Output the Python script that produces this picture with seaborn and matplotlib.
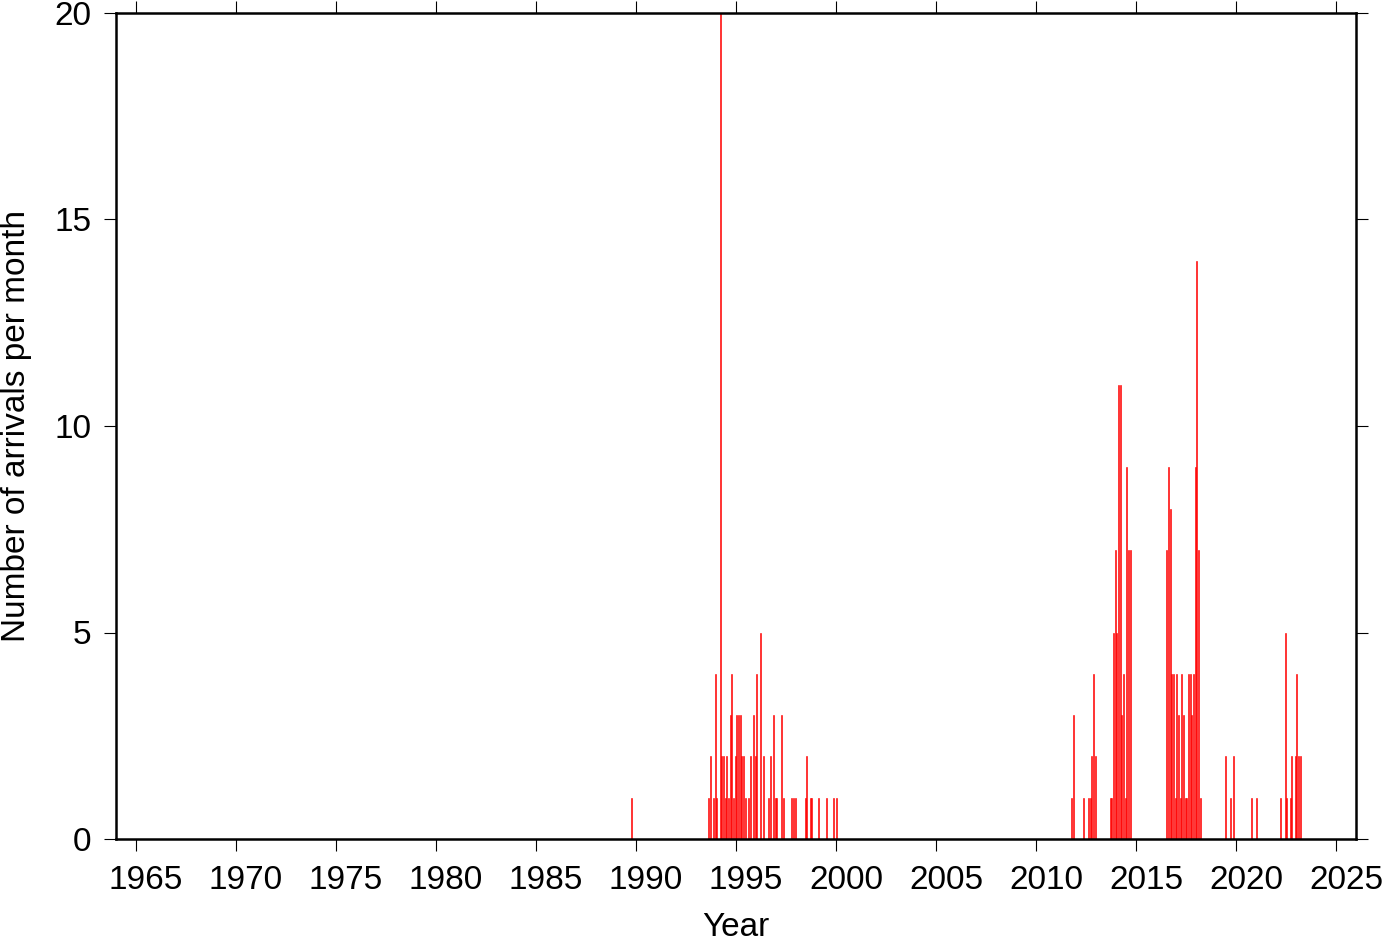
import numpy as np
import pandas as pd
import matplotlib
matplotlib.use('Agg')
import matplotlib.pyplot as plt
import matplotlib.transforms as mtransforms
import seaborn as sns

# monthly arrival counts (only non-empty months)
months_90s = ['1989-10',
              '1993-08', '1993-09', '1993-11', '1993-12',
              '1994-01', '1994-03', '1994-04', '1994-05', '1994-06', '1994-07',
              '1994-08', '1994-09', '1994-10', '1994-11', '1994-12',
              '1995-01', '1995-02', '1995-03', '1995-04', '1995-05', '1995-06',
              '1995-08', '1995-09', '1995-11', '1995-12',
              '1996-01', '1996-03', '1996-05', '1996-08', '1996-09', '1996-11', '1996-12',
              '1997-01', '1997-04', '1997-05', '1997-10', '1997-11', '1997-12',
              '1998-06', '1998-07', '1998-09', '1998-10',
              '1999-02', '1999-07', '1999-11', '2000-01']
counts_90s = [1,
              1, 2, 1, 4,
              1, 20, 2, 2, 1, 2,
              1, 3, 4, 1, 2,
              3, 3, 3, 2, 2, 1,
              1, 2, 3, 2,
              4, 5, 2, 1, 2, 3, 1,
              1, 3, 1, 1, 1, 1,
              1, 2, 1, 1,
              1, 1, 1, 1]

months_2010s = ['2011-10', '2011-11', '2012-05', '2012-08', '2012-09', '2012-10',
                '2012-11', '2012-12',
                '2013-09', '2013-10', '2013-11', '2013-12',
                '2014-01', '2014-02', '2014-03', '2014-04', '2014-05', '2014-06',
                '2014-07', '2014-08', '2014-09',
                '2016-07', '2016-08', '2016-09', '2016-10', '2016-11', '2016-12',
                '2017-01', '2017-02', '2017-03', '2017-04', '2017-05', '2017-06',
                '2017-07', '2017-08', '2017-09', '2017-10', '2017-11', '2017-12',
                '2018-01', '2018-02', '2018-03']
counts_2010s = [1, 3, 1, 1, 1, 2,
                4, 2,
                1, 1, 5, 7,
                5, 11, 11, 3, 4, 1,
                9, 7, 7,
                7, 9, 8, 4, 4, 1,
                4, 3, 1, 4, 3, 1,
                1, 4, 4, 3, 4, 9,
                14, 7, 1]

months_2020s = ['2019-06', '2019-09', '2019-11', '2020-10', '2021-01',
                '2022-03', '2022-06', '2022-07', '2022-09', '2022-10', '2022-12',
                '2023-01', '2023-02', '2023-03']
counts_2020s = [2, 1, 2, 1, 1,
                1, 5, 1, 1, 2, 2,
                4, 2, 2]

year_ticks = list(range(1965, 2026, 5))
count_ticks = [0, 5, 10, 15, 20]

df = pd.DataFrame({
    'month': pd.to_datetime(months_90s + months_2010s + months_2020s),
    'n': counts_90s + counts_2010s + counts_2020s,
})
# decimal year at the middle of each month
df['year'] = df['month'].dt.year + (df['month'].dt.month - 0.5) / 12

sns.set_style('ticks')
plt.rcParams['font.family'] = ['Liberation Sans', 'DejaVu Sans']

fig = plt.figure(figsize=(13.82, 9.42), dpi=100)
ax = fig.add_axes([116/1382, 1 - 839/942, 1240/1382, 826/942])

sns.histplot(data=df, x='year', weights='n', binwidth=1/12, binrange=(1964, 2026),
             color='red', alpha=1, edgecolor='red', linewidth=0.4, shrink=0.75, ax=ax)

ax.set_xlim(1964, 2026)
ax.set_ylim(0, 20)
ax.set_xticks(year_ticks)
ax.set_yticks(count_ticks)
ax.tick_params(axis='both', which='major', direction='out', length=8.5, width=0.8,
               labelsize=24, color='black', labelcolor='black',
               top=True, right=True, labeltop=False, labelright=False)
ax.tick_params(axis='x', pad=10)
ax.tick_params(axis='y', pad=9)
# year labels sit a little to the right of their ticks in the original
shift = mtransforms.ScaledTranslation(10/100, 0, fig.dpi_scale_trans)
for lbl in ax.get_xticklabels():
    lbl.set_transform(lbl.get_transform() + shift)
for s in ax.spines.values():
    s.set_visible(True)
    s.set_linewidth(1.8)
    s.set_color('black')
ax.grid(False)

ax.set_xlabel('Year', fontsize=24, labelpad=12, color='black')
ax.set_ylabel('Number of arrivals per month', fontsize=24, labelpad=16, color='black')

fig.savefig('out.png', dpi=100)
